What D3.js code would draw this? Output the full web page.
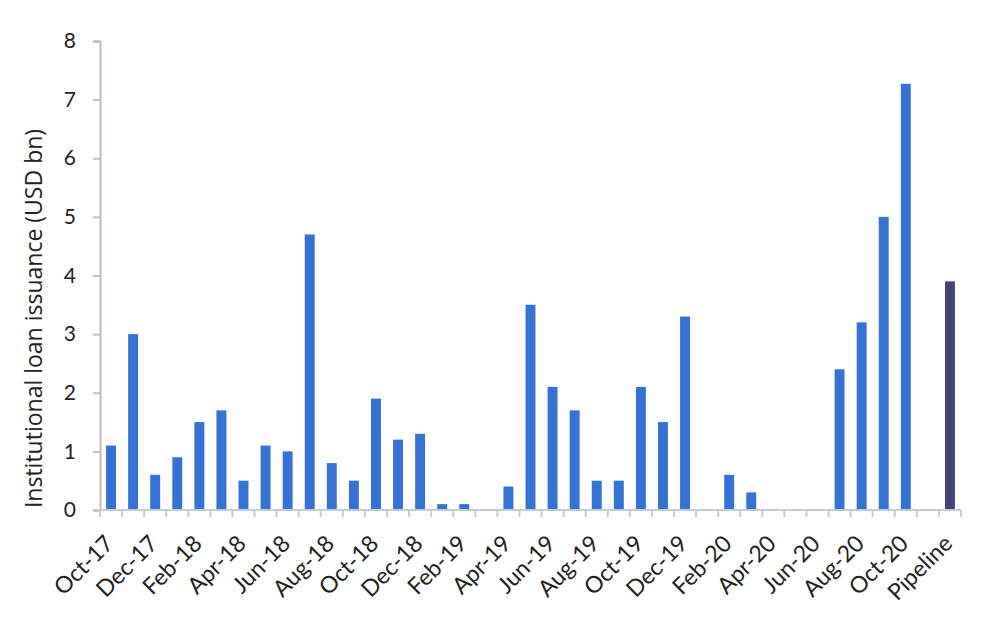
<!DOCTYPE html>
<html>
<head>
<meta charset="utf-8">
<script src="https://cdn.jsdelivr.net/npm/d3@7"></script>
<style>
html,body{margin:0;padding:0;background:#fff;}
svg{display:block;}
</style>
</head>
<body>
<svg id="chart" width="996" height="626"></svg>
<script>
const categories = ["Oct-17","Nov-17","Dec-17","Jan-18","Feb-18","Mar-18","Apr-18","May-18","Jun-18","Jul-18","Aug-18","Sep-18","Oct-18","Nov-18","Dec-18","Jan-19","Feb-19","Mar-19","Apr-19","May-19","Jun-19","Jul-19","Aug-19","Sep-19","Oct-19","Nov-19","Dec-19","Jan-20","Feb-20","Mar-20","Apr-20","May-20","Jun-20","Jul-20","Aug-20","Sep-20","Oct-20","Nov-20","Pipeline"];
const values = [1.1,3.0,0.6,0.9,1.5,1.7,0.5,1.1,1.0,4.7,0.8,0.5,1.9,1.2,1.3,0.1,0.1,0,0.4,3.5,2.1,1.7,0.5,0.5,2.1,1.5,3.3,0,0.6,0.3,0,0,0,2.4,3.2,5.0,7.27,0,3.9];
const shownLabels = ["Oct-17","Dec-17","Feb-18","Apr-18","Jun-18","Aug-18","Oct-18","Dec-18","Feb-19","Apr-19","Jun-19","Aug-19","Oct-19","Dec-19","Feb-20","Apr-20","Jun-20","Aug-20","Oct-20","Pipeline"];
const yTicks = [0,1,2,3,4,5,6,7,8];
const yTitle = "Institutional loan issuance (USD bn)";
const highlight = "Pipeline";

(function(){
const svg = d3.select("#chart");
const mLeft = 100, mRight = 961, mTop = 41, mBottom = 510;
const font = "Lato, 'Noto Sans', sans-serif";

const x = d3.scaleBand().domain(categories).range([mLeft, mRight]).paddingInner(0.55).paddingOuter(0.275);
const y = d3.scaleLinear().domain([0, 8]).range([mBottom, mTop]);

svg.append("g").selectAll("rect").data(categories.map((c,i)=>({c, v: values[i]})))
  .join("rect")
  .attr("x", d => x(d.c))
  .attr("width", x.bandwidth())
  .attr("y", d => y(d.v))
  .attr("height", d => y(0) - y(d.v))
  .attr("fill", d => d.c === highlight ? "#434577" : "#3472d4");

const yAxis = svg.append("g").attr("transform", `translate(${mLeft},0)`)
  .call(d3.axisLeft(y).tickValues(yTicks).tickSize(7).tickPadding(17).tickFormat(d3.format("d")));
yAxis.select(".domain").attr("stroke", "#c5bcb1").attr("stroke-width", 2);
yAxis.selectAll(".tick line").attr("stroke", "#c5bcb1").attr("stroke-width", 2);
yAxis.selectAll(".tick text").attr("font-family", font).attr("font-size", 21).attr("fill", "#222");

const step = x.step();
const xg = svg.append("g");
xg.append("line").attr("x1", mLeft).attr("x2", mRight).attr("y1", mBottom).attr("y2", mBottom)
  .attr("stroke", "#c3ccd7").attr("stroke-width", 2);
const bounds = d3.range(categories.length + 1).map(i => mLeft + i * step);
xg.selectAll("line.tk").data(bounds).join("line").attr("class","tk")
  .attr("x1", d => d).attr("x2", d => d).attr("y1", mBottom).attr("y2", mBottom + 7)
  .attr("stroke", "#c3ccd7").attr("stroke-width", 2);

xg.selectAll("text").data(shownLabels).join("text")
  .attr("transform", d => `translate(${x(d) + x.bandwidth()/2 + 4},${mBottom + 35}) rotate(-45)`)
  .attr("text-anchor", "end")
  .attr("font-family", font).attr("font-size", 23).attr("fill", "#222")
  .text(d => d);

svg.append("text")
  .attr("transform", `translate(42,${(130+507)/2}) rotate(-90)`)
  .attr("text-anchor", "middle")
  .attr("font-family", "'Open Sans', sans-serif").attr("font-size", 23).attr("fill", "#222")
  .text(yTitle);
})();
</script>
</body>
</html>
